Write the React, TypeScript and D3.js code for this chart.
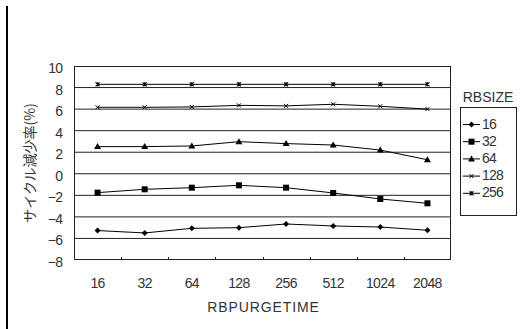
import React from "react";
import * as d3 from "d3";

const categories = ["16", "32", "64", "128", "256", "512", "1024", "2048"];
const seriesNames = ["16", "32", "64", "128", "256"];
const s16 = [-5.27, -5.49, -5.06, -5.0, -4.66, -4.84, -4.94, -5.24];
const s32 = [-1.75, -1.44, -1.29, -1.07, -1.29, -1.78, -2.34, -2.74];
const s64 = [2.52, 2.52, 2.58, 2.98, 2.8, 2.67, 2.2, 1.3];
const s128 = [6.17, 6.17, 6.2, 6.35, 6.3, 6.45, 6.26, 6.0];
const s256 = [8.3, 8.3, 8.3, 8.3, 8.3, 8.3, 8.3, 8.3];
const yTicks = [-8, -6, -4, -2, 0, 2, 4, 6, 8, 10];

const seriesData = [s16, s32, s64, s128, s256];
const markerTypes = ["diamond", "square", "triangle", "x", "star"];

const W = 520, H = 329;
const L = 74, R = 451, T = 66, B = 260;
const font = "'Liberation Sans', Arial, sans-serif";
const txt = "#333";

function Marker({ type, x, y }: { type: string; x: number; y: number }) {
  if (type === "diamond") {
    const s = 3;
    return <path d={`M${x},${y - s}L${x + s},${y}L${x},${y + s}L${x - s},${y}Z`} fill="#000" />;
  }
  if (type === "square") {
    return <rect x={x - 3} y={y - 3} width={6} height={6} fill="#000" />;
  }
  if (type === "triangle") {
    return <path d={`M${x},${y - 3.5}L${x + 3.5},${y + 2.5}L${x - 3.5},${y + 2.5}Z`} fill="#000" />;
  }
  if (type === "x") {
    const s = 2;
    return <path d={`M${x - s},${y - s}L${x + s},${y + s}M${x - s},${y + s}L${x + s},${y - s}`} stroke="#000" strokeWidth={1} />;
  }
  const s = 2;
  return (
    <path
      d={`M${x - s},${y - s}L${x + s},${y + s}M${x - s},${y + s}L${x + s},${y - s}M${x},${y - s}L${x},${y + s}`}
      stroke="#000"
      strokeWidth={1.2}
    />
  );
}

export default function App() {
  const x = d3.scaleBand<string>().domain(categories).range([L, R]);
  const y = d3.scaleLinear().domain([-8, 10]).range([B, T]);
  const cx = (c: string) => (x(c) as number) + x.bandwidth() / 2;
  const line = d3
    .line<number>()
    .x((_, i) => cx(categories[i]))
    .y((d) => y(d));

  const legX = 460, legY = 107, legW = 56, legH = 108;
  const legStep = 17.2;

  return (
    <svg
      width={W}
      height={H}
      style={{ position: "absolute", left: 0, top: 0, background: "#fff" }}
      fontFamily={font}
    >
      <rect x={0} y={0} width={W} height={H} fill="#fff" />
      <line x1={7} x2={7} y1={6} y2={H} stroke="#000" strokeWidth={2} />
      {/* gridlines */}
      {yTicks.slice(1, -1).map((t) => (
        <line key={t} x1={L} x2={R} y1={y(t)} y2={y(t)} stroke="#222" strokeWidth={1} />
      ))}
      {/* frame */}
      <rect x={L + 0.5} y={T + 0.5} width={R - L - 1} height={B - T - 1} fill="none" stroke="#222" strokeWidth={1} />
      {/* x ticks inside */}
      {categories.slice(1).map((c) => (
        <line
          key={c}
          x1={Math.round(x(c) as number) + 0.5}
          x2={Math.round(x(c) as number) + 0.5}
          y1={B}
          y2={B - 3}
          stroke="#222"
        />
      ))}
      {/* y labels */}
      {yTicks.map((t) => (
        <text key={t} x={62.5} y={y(t) + 7} textAnchor="end" fontSize={14} letterSpacing={-0.6} fill={txt}>
          {t < 0 ? "\u2212" + Math.abs(t) : t}
        </text>
      ))}
      {/* x labels */}
      {categories.map((c) => (
        <text key={c} x={cx(c)} y={288} textAnchor="middle" fontSize={14} letterSpacing={-0.6} fill={txt}>
          {c}
        </text>
      ))}
      <text x={(L + R) / 2 + 1} y={312} textAnchor="middle" fontSize={14} letterSpacing={0.9} fill={txt}>
        RBPURGETIME
      </text>
      <text
        transform={`translate(35,${(T + B) / 2}) rotate(-90)`}
        textAnchor="middle"
        fontSize={14}
        fill={txt}
        fontFamily="'Noto Sans CJK JP', sans-serif"
      >
        サイクル減少率(%)
      </text>
      {/* series */}
      {seriesData.map((s, si) => (
        <g key={si}>
          <path d={line(s) as string} fill="none" stroke="#000" strokeWidth={1} />
          {s.map((v, i) => (
            <Marker key={i} type={markerTypes[si]} x={cx(categories[i])} y={y(v)} />
          ))}
        </g>
      ))}
      {/* legend */}
      <text x={488} y={102} textAnchor="middle" fontSize={14} fill={txt}>
        RBSIZE
      </text>
      <rect x={legX + 0.5} y={legY + 0.5} width={legW} height={legH} fill="none" stroke="#222" />
      {seriesNames.map((n, i) => {
        const yy = 124.5 + i * legStep;
        return (
          <g key={n}>
            <line x1={463} x2={480} y1={yy} y2={yy} stroke="#000" />
            <Marker type={markerTypes[i]} x={471.5} y={yy} />
            <text x={482} y={yy + 4} fontSize={14} letterSpacing={-0.8} fill={txt}>
              {n}
            </text>
          </g>
        );
      })}
    </svg>
  );
}
